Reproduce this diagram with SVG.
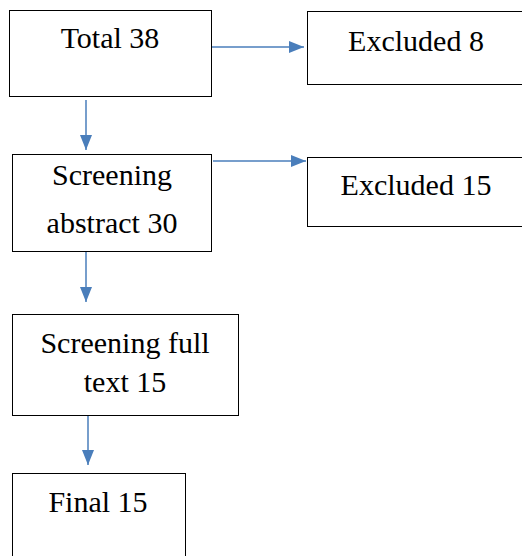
<svg xmlns="http://www.w3.org/2000/svg" width="522" height="556" viewBox="0 0 522 556">
<style>
.box{fill:#fff;stroke:#000;stroke-width:1}
.t{font-family:"Liberation Serif","DejaVu Serif",serif;font-size:30px;fill:#000;text-anchor:middle}
.c{stroke:#4a7ebb;stroke-width:1.5;fill:none}
</style>
<defs>
<marker id="ah" viewBox="0 0 15 12" refX="15" refY="6" markerWidth="15" markerHeight="12" markerUnits="userSpaceOnUse" orient="auto">
<path d="M0,0 L15,6 L0,12 z" fill="#4a7ebb"/>
</marker>
</defs>
<g id="n1"><rect class="box" x="9.5" y="10.5" width="202" height="86"/><text class="t" x="110" y="48">Total 38</text></g>
<g id="n2"><rect class="box" x="307.5" y="11.5" width="220" height="73"/><text class="t" x="416" y="51">Excluded 8</text></g>
<g id="n3"><rect class="box" x="12.5" y="154.5" width="199" height="97"/><text class="t" x="112" y="185">Screening</text><text class="t" x="112" y="233">abstract 30</text></g>
<g id="n4"><rect class="box" x="307.5" y="157.5" width="220" height="69"/><text class="t" x="416" y="195">Excluded 15</text></g>
<g id="n5"><rect class="box" x="12.5" y="314.5" width="226" height="101"/><text class="t" x="125" y="353">Screening full</text><text class="t" x="125" y="392">text 15</text></g>
<g id="n6"><rect class="box" x="12.5" y="473.5" width="173" height="90"/><text class="t" x="98" y="512">Final 15</text></g>
<g id="connectors">
<line class="c" x1="212" y1="47" x2="304" y2="47" marker-end="url(#ah)"/>
<line class="c" x1="86" y1="100" x2="86" y2="150" marker-end="url(#ah)"/>
<line class="c" x1="213" y1="161" x2="306" y2="161" marker-end="url(#ah)"/>
<line class="c" x1="86" y1="252" x2="86" y2="302" marker-end="url(#ah)"/>
<line class="c" x1="88" y1="416" x2="88" y2="465" marker-end="url(#ah)"/>
</g>
</svg>
